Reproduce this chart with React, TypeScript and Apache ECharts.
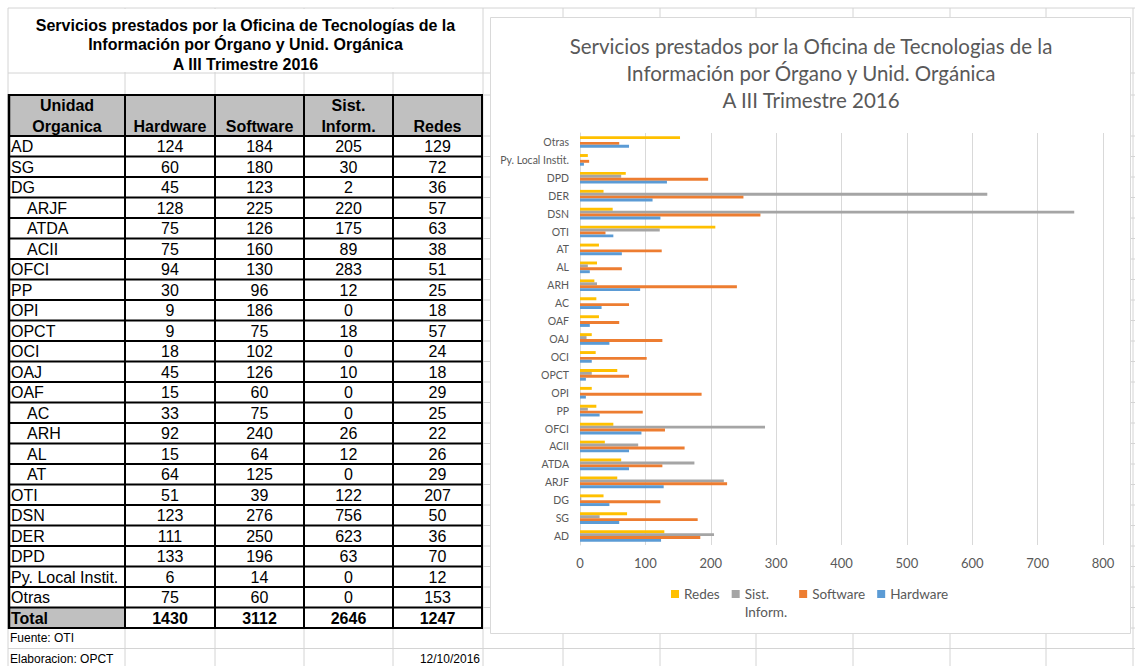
import React, { useEffect, useRef } from 'react';
import * as echarts from 'echarts';

// ---------- data ----------
const units = ['AD', 'SG', 'DG', 'ARJF', 'ATDA', 'ACII', 'OFCI', 'PP', 'OPI', 'OPCT', 'OCI', 'OAJ', 'OAF', 'AC', 'ARH', 'AL', 'AT', 'OTI', 'DSN', 'DER', 'DPD', 'Py. Local Instit.', 'Otras'];
const indentedUnits = ['ARJF', 'ATDA', 'ACII', 'AC', 'ARH', 'AL', 'AT'];
const hardware = [124, 60, 45, 128, 75, 75, 94, 30, 9, 9, 18, 45, 15, 33, 92, 15, 64, 51, 123, 111, 133, 6, 75];
const software = [184, 180, 123, 225, 126, 160, 130, 96, 186, 75, 102, 126, 60, 75, 240, 64, 125, 39, 276, 250, 196, 14, 60];
const sistInform = [205, 30, 2, 220, 175, 89, 283, 12, 0, 18, 0, 10, 0, 0, 26, 12, 0, 122, 756, 623, 63, 0, 0];
const redes = [129, 72, 36, 57, 63, 38, 51, 25, 18, 57, 24, 18, 29, 25, 22, 26, 29, 207, 50, 36, 70, 12, 153];
const totalLabel = 'Total';
const totals = [1430, 3112, 2646, 1247];
const headerLabels = ['Unidad\nOrganica', 'Hardware', 'Software', 'Sist.\nInform.', 'Redes'];
const seriesNames = ['Redes', 'Sist. Inform.', 'Software', 'Hardware'];
const tableTitle = 'Servicios prestados por la Oficina de Tecnologías de la\nInformación por Órgano y Unid. Orgánica\nA III Trimestre 2016';
const chartTitle = 'Servicios prestados por la Oficina de Tecnologias de la\nInformación por Órgano y Unid. Orgánica\nA III Trimestre 2016';
const sourceText = 'Fuente: OTI';
const madeByText = 'Elaboracion: OPCT';
const dateText = '12/10/2016';
const xMin = 0;
const xMax = 800;
const xStep = 100;

// ---------- layout / style ----------
const SHEET_GRAY = '#d4d4d4';
const CHART_TEXT = '#595959';
const COLORS = ['#FFC000', '#A5A5A5', '#ED7D31', '#5B9BD5'];
const TABLE_FONT = '"Liberation Sans", Arial, sans-serif';
const CHART_FONT = 'Lato, "Open Sans", sans-serif';
const COLS = [9, 125, 215, 304, 393, 482];
const SHEET_V = [8, 125, 215, 304, 393, 483, 563, 660, 756, 853, 950, 1046, 1133];
const HEAD_TOP = 95;
const BODY_TOP = 136;
const ROW_H = 20.5;

function buildGraphics() {
  const els: any[] = [];
  const nRows = units.length + 1;
  const tableBottom = BODY_TOP + nRows * ROW_H;
  const rowLines: number[] = [];
  for (let i = 0; i <= nRows; i++) rowLines.push(BODY_TOP + i * ROW_H);
  const sheetH = [8, 73, HEAD_TOP, ...rowLines, tableBottom + ROW_H];

  // spreadsheet gridlines
  sheetH.forEach((y) => els.push({ type: 'line', z: -5, shape: { x1: 8, y1: y, x2: 1135, y2: y }, style: { stroke: SHEET_GRAY, lineWidth: 1 } }));
  SHEET_V.forEach((x) => els.push({ type: 'line', z: -5, shape: { x1: x, y1: 8, x2: x, y2: 666 }, style: { stroke: SHEET_GRAY, lineWidth: 1 } }));
  // merged title cell
  els.push({ type: 'rect', z: -4, shape: { x: 9, y: 9, width: 473, height: 63 }, style: { fill: '#fff' } });
  // chart area
  els.push({ type: 'rect', z: -4, shape: { x: 490.5, y: 17.5, width: 640, height: 616 }, style: { fill: '#fff', stroke: '#d9d9d9', lineWidth: 1 } });
  // header fill and total cell fill
  els.push({ type: 'rect', z: -3, shape: { x: COLS[0], y: HEAD_TOP, width: COLS[5] - COLS[0], height: BODY_TOP - HEAD_TOP }, style: { fill: '#c0c0c0' } });
  els.push({ type: 'rect', z: -3, shape: { x: COLS[0], y: BODY_TOP + units.length * ROW_H, width: COLS[1] - COLS[0], height: ROW_H }, style: { fill: '#c0c0c0' } });
  // black borders
  [HEAD_TOP, ...rowLines].forEach((y) => els.push({ type: 'line', z: -2, shape: { x1: COLS[0], y1: y, x2: COLS[5], y2: y }, style: { stroke: '#000', lineWidth: 2 } }));
  COLS.forEach((x, i) => els.push({ type: 'line', z: -2, shape: { x1: x, y1: HEAD_TOP - 1, x2: x, y2: tableBottom + 1 }, style: { stroke: '#000', lineWidth: i === 0 ? 2.5 : 2 } }));

  // table title
  els.push({ type: 'text', z: -1, style: { text: tableTitle, x: (COLS[0] + COLS[5]) / 2, y: 15.5, align: 'center', verticalAlign: 'top', fontSize: 16, fontWeight: 'bold', fontFamily: TABLE_FONT, lineHeight: 19.5, fill: '#000' } });
  // header
  headerLabels.forEach((h, c) => els.push({ type: 'text', z: -1, style: { text: h, x: (COLS[c] + COLS[c + 1]) / 2, y: BODY_TOP + 1.5, align: 'center', verticalAlign: 'bottom', fontSize: 16, fontWeight: 'bold', fontFamily: TABLE_FONT, lineHeight: 21.5, fill: '#000' } }));
  // body
  const cols = [hardware, software, sistInform, redes];
  units.forEach((u, r) => {
    const cy = BODY_TOP + r * ROW_H + ROW_H / 2 + 0.5;
    els.push({ type: 'text', z: -1, style: { text: u, x: indentedUnits.includes(u) ? 27 : 11, y: cy, align: 'left', verticalAlign: 'middle', fontSize: 16, fontFamily: TABLE_FONT, fill: '#000' } });
    cols.forEach((arr, c) => els.push({ type: 'text', z: -1, style: { text: String(arr[r]), x: (COLS[c + 1] + COLS[c + 2]) / 2, y: cy, align: 'center', verticalAlign: 'middle', fontSize: 16, fontFamily: TABLE_FONT, fill: '#000' } }));
  });
  const ty = BODY_TOP + units.length * ROW_H + ROW_H / 2 + 0.5;
  els.push({ type: 'text', z: -1, style: { text: totalLabel, x: 11, y: ty, align: 'left', verticalAlign: 'middle', fontSize: 16, fontWeight: 'bold', fontFamily: TABLE_FONT, fill: '#000' } });
  totals.forEach((t, c) => els.push({ type: 'text', z: -1, style: { text: String(t), x: (COLS[c + 1] + COLS[c + 2]) / 2, y: ty, align: 'center', verticalAlign: 'middle', fontSize: 16, fontWeight: 'bold', fontFamily: TABLE_FONT, fill: '#000' } }));
  // footer
  els.push({ type: 'text', z: -1, style: { text: sourceText, x: 10, y: tableBottom + ROW_H / 2, align: 'left', verticalAlign: 'middle', fontSize: 12, fontFamily: TABLE_FONT, fill: '#000' } });
  els.push({ type: 'text', z: -1, style: { text: madeByText, x: 10, y: tableBottom + ROW_H * 1.5, align: 'left', verticalAlign: 'middle', fontSize: 12, fontFamily: TABLE_FONT, fill: '#000' } });
  els.push({ type: 'text', z: -1, style: { text: dateText, x: 480, y: tableBottom + ROW_H * 1.5, align: 'right', verticalAlign: 'middle', fontSize: 12, fontFamily: TABLE_FONT, fill: '#000' } });

  // chart title
  els.push({ type: 'text', z: -1, style: { text: chartTitle, x: 811, y: 32, align: 'center', verticalAlign: 'top', fontSize: 20.5, fontFamily: CHART_FONT, lineHeight: 27, fill: CHART_TEXT } });
  return els;
}

export default function App() {
  const ref = useRef<HTMLDivElement>(null);
  useEffect(() => {
    if (!ref.current) return;
    const chart = echarts.init(ref.current, undefined, { renderer: 'svg' });
    const seriesData = [redes, sistInform, software, hardware];
    chart.setOption({
      animation: false,
      backgroundColor: '#fff',
      graphic: { elements: buildGraphics() },
      grid: { left: 580, top: 133, width: 523, height: 412, containLabel: false, outerBoundsMode: 'none' },
      xAxis: {
        type: 'value', min: xMin, max: xMax, interval: xStep,
        axisLine: { show: false }, axisTick: { show: false },
        axisLabel: { color: CHART_TEXT, fontSize: 13, fontFamily: CHART_FONT, margin: 11 },
        splitLine: { show: true, lineStyle: { color: '#d9d9d9', width: 1 } },
      },
      yAxis: {
        type: 'category', data: units,
        axisLine: { show: true, lineStyle: { color: '#d9d9d9' } }, axisTick: { show: false },
        axisLabel: { color: CHART_TEXT, fontSize: 10.5, fontFamily: CHART_FONT, margin: 11 },
      },
      legend: {
        left: 671, top: 567, padding: 0, itemWidth: 8, itemHeight: 8, itemGap: 12, icon: 'rect', selectedMode: false,
        data: seriesNames,
        formatter: (n: string) => (n.includes(' ') ? ' \n' + n.replace(' ', '\n') : n),
        textStyle: { color: CHART_TEXT, fontSize: 13.5, fontFamily: CHART_FONT, lineHeight: 18 },
      },
      series: seriesNames.map((n, i) => ({
        name: n, type: 'bar', data: seriesData[i],
        itemStyle: { color: COLORS[i] },
        barGap: '0%', barCategoryGap: '35%',
      })),
    });
    return () => chart.dispose();
  }, []);
  return <div ref={ref} style={{ position: 'absolute', left: 0, top: 0, width: 1135, height: 666 }} />;
}
